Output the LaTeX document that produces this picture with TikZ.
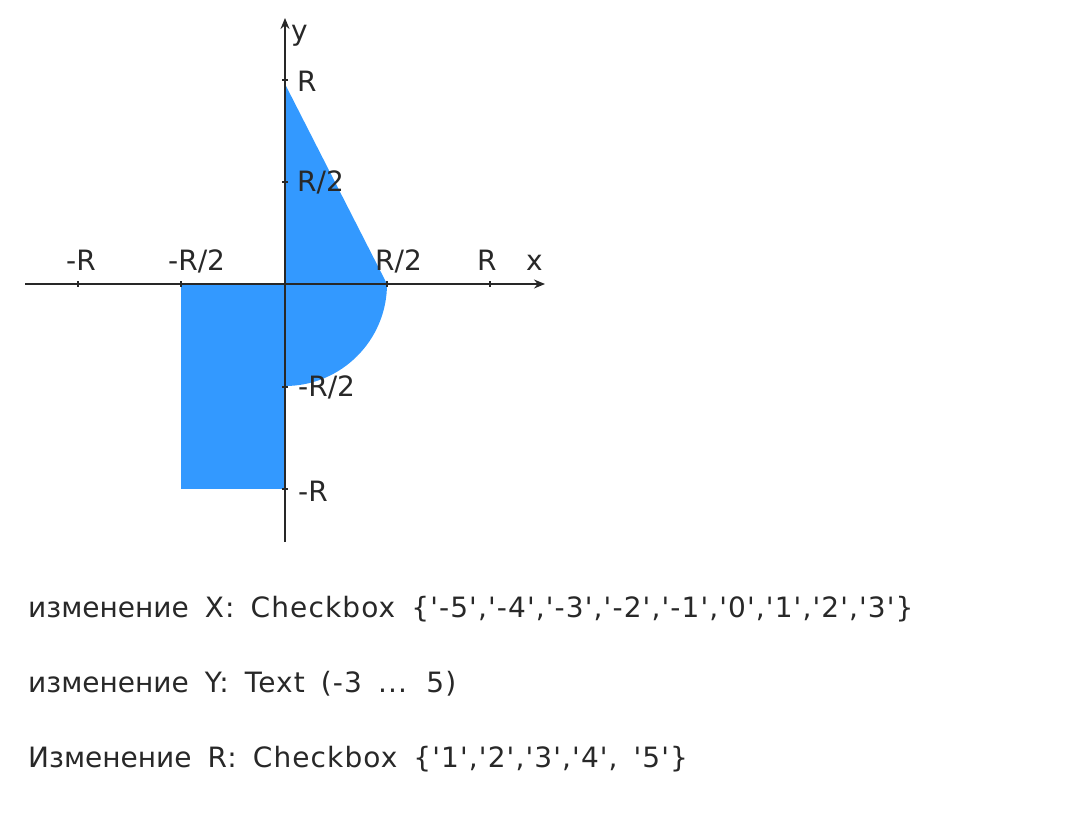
\documentclass[tikz,border=0pt]{standalone}
\usepackage{fontspec}
\setmainfont{DejaVu Sans}[Ligatures=TeXOff]
\newfontfamily\widefont{DejaVu Sans}[Ligatures=TeXOff,LetterSpace=4,WordSpace=1.6]
\usetikzlibrary{arrows.meta}
\definecolor{areablue}{RGB}{51,153,255}
\definecolor{ink}{RGB}{40,40,40}
\begin{document}
\begin{tikzpicture}[x=1pt,y=-1pt,
  axis/.style={draw=ink,line width=1.6pt,-{Stealth[length=11pt,width=9pt]}},
  tickmark/.style={draw=ink,line width=1.6pt},
  axlabel/.style={font=\fontsize{28}{30}\selectfont,text=ink,inner sep=0pt},
  infoline/.style={font=\fontsize{28}{32}\selectfont,text=ink,inner sep=0pt,anchor=base west}]
\useasboundingbox (0,0) rectangle (1080,822);
% region
\fill[areablue] (285,84) -- (387,284) arc[start angle=0,end angle=90,radius=102] -- (285,284) -- cycle;
\fill[areablue] (181,284) rectangle (285,489);
% axes
\coordinate (xs) at (25,284);
\coordinate (xe) at (545,284);
\coordinate (ys) at (285,542);
\coordinate (ye) at (285,18);
\draw[axis] (xs) -- (xe);
\draw[axis] (ys) -- (ye);
% ticks
\foreach \x in {78,181,387,490} \draw[tickmark] (\x,281) -- (\x,287);
\foreach \y in {80,182,387,489} \draw[tickmark] (282,\y) -- (288,\y);
% x labels
\node[axlabel,anchor=base west] (lmr) at (66,270) {-R};
\node[axlabel,anchor=base west] (lmr2) at (168,270) {-R/2};
\node[axlabel,anchor=base west] (lr2) at (375,270) {R/2};
\node[axlabel,anchor=base west] (lr) at (477,270) {R};
\node[axlabel,anchor=base west] (lx) at (526,270) {x};
% y labels
\node[axlabel,anchor=west] (yr) at (297,81) {R};
\node[axlabel,anchor=west] (yr2) at (297,182) {R/2};
\node[axlabel,anchor=west] (ymr2) at (298,387) {-R/2};
\node[axlabel,anchor=west] (ymr) at (298,491) {-R};
\node[axlabel,anchor=base west] (ly) at (291,40) {y};
% text lines
\node[infoline] (t1) at (28,617) {изменение\widefont{} X: Checkbox \{'-5','-4','-3','-2','-1','0','1','2','3'\}};
\node[infoline] (t2) at (28,692) {изменение\widefont{} Y: Text (-3 ... 5)};
\node[infoline] (t3) at (28,767) {Изменение\widefont{} R: Checkbox \{'1','2','3','4', '5'\}};
\end{tikzpicture}
\end{document}
